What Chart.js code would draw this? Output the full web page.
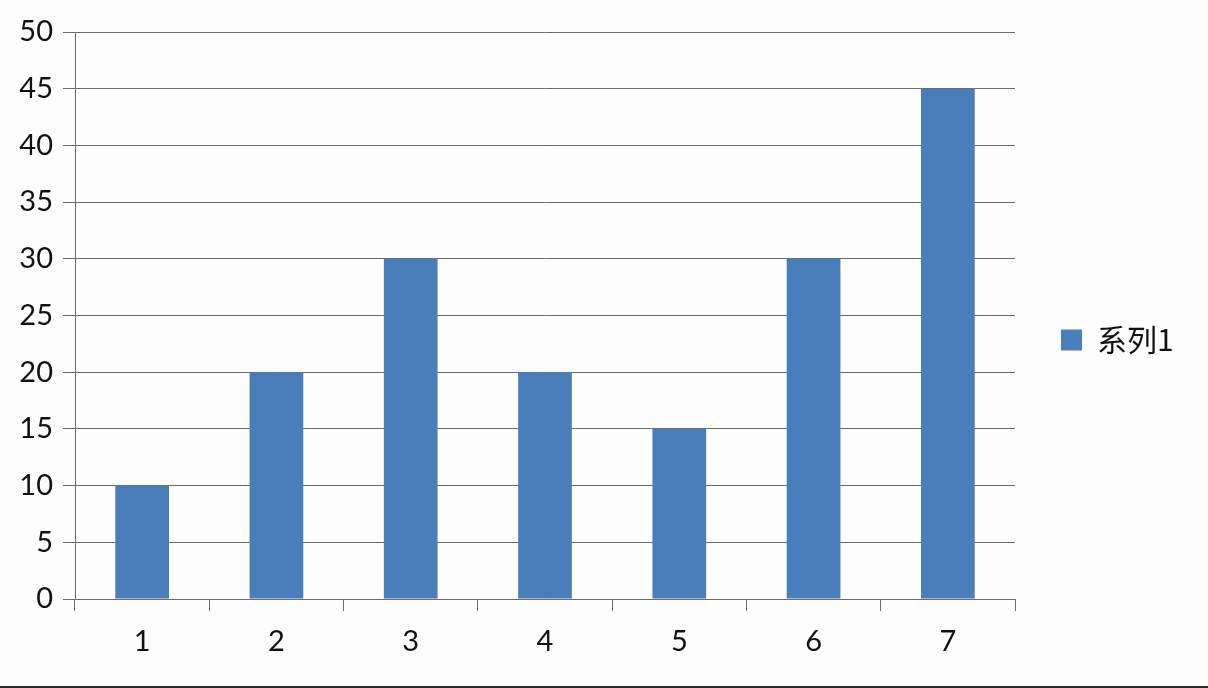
<!DOCTYPE html>
<html>
<head>
<meta charset="utf-8">
<script src="https://cdn.jsdelivr.net/npm/chart.js@4/dist/chart.umd.min.js"></script>
<style>
html,body{margin:0;padding:0;background:#fdfdfd;}
#wrap{width:1208px;height:686px;position:relative;}
#bar{width:1208px;height:2px;background:#2a2a2a;}
</style>
</head>
<body>
<div id="wrap"><canvas id="c" width="1208" height="686"></canvas></div>
<div id="bar"></div>
<script>
const categories = ['1','2','3','4','5','6','7'];
const seriesName = '系列1';
const seriesValues = [10, 20, 30, 20, 15, 30, 45];
const yTicks = [0,5,10,15,20,25,30,35,40,45,50];

const barColor = '#4a7ebb';
const gridColor = '#6c6c6c';
const fontFamily = 'Lato, "Open Sans", sans-serif';

const legendPlugin = {
  id: 'sideLegend',
  afterDraw(chart) {
    const ctx = chart.ctx;
    const ds = chart.data.datasets[0];
    const x0 = chart.chartArea.right + 46;
    const yc = chart.height / 2 - 3;
    ctx.save();
    ctx.fillStyle = ds.backgroundColor;
    ctx.fillRect(x0, yc - 10.5, 21, 21);
    ctx.fillStyle = '#111';
    ctx.font = '30px "Noto Sans CJK SC", sans-serif';
    ctx.textBaseline = 'middle';
    ctx.textAlign = 'left';
    ctx.fillText(ds.label, x0 + 36, yc);
    ctx.restore();
  }
};

new Chart(document.getElementById('c'), {
  type: 'bar',
  data: {
    labels: categories,
    datasets: [{
      label: seriesName,
      data: seriesValues,
      backgroundColor: barColor,
      borderWidth: 0,
      barPercentage: 0.4,
      categoryPercentage: 1.0
    }]
  },
  options: {
    responsive: false,
    animation: false,
    layout: { padding: { top: 32, right: 193, left: 0, bottom: 0 } },
    plugins: { legend: { display: false }, tooltip: { enabled: false } },
    scales: {
      x: {
        offset: true,
        grid: { display: true, drawOnChartArea: false, drawTicks: true, tickLength: 12, color: gridColor, offset: true },
        border: { display: true, color: gridColor, width: 1 },
        ticks: { color: '#111', font: { family: fontFamily, size: 29 }, padding: 13, maxRotation: 0 },
        afterFit(s) { s.height = 87; }
      },
      y: {
        min: 0, max: 50,
        afterBuildTicks(s) { s.ticks = yTicks.map(v => ({ value: v })); },
        grid: { color: gridColor, lineWidth: 1, tickLength: 12, drawTicks: true },
        border: { display: true, color: gridColor, width: 1 },
        ticks: { color: '#111', font: { family: fontFamily, size: 29 }, padding: 10 },
        afterFit(s) { s.width = 75; }
      }
    }
  },
  plugins: [legendPlugin]
});
</script>
</body>
</html>
